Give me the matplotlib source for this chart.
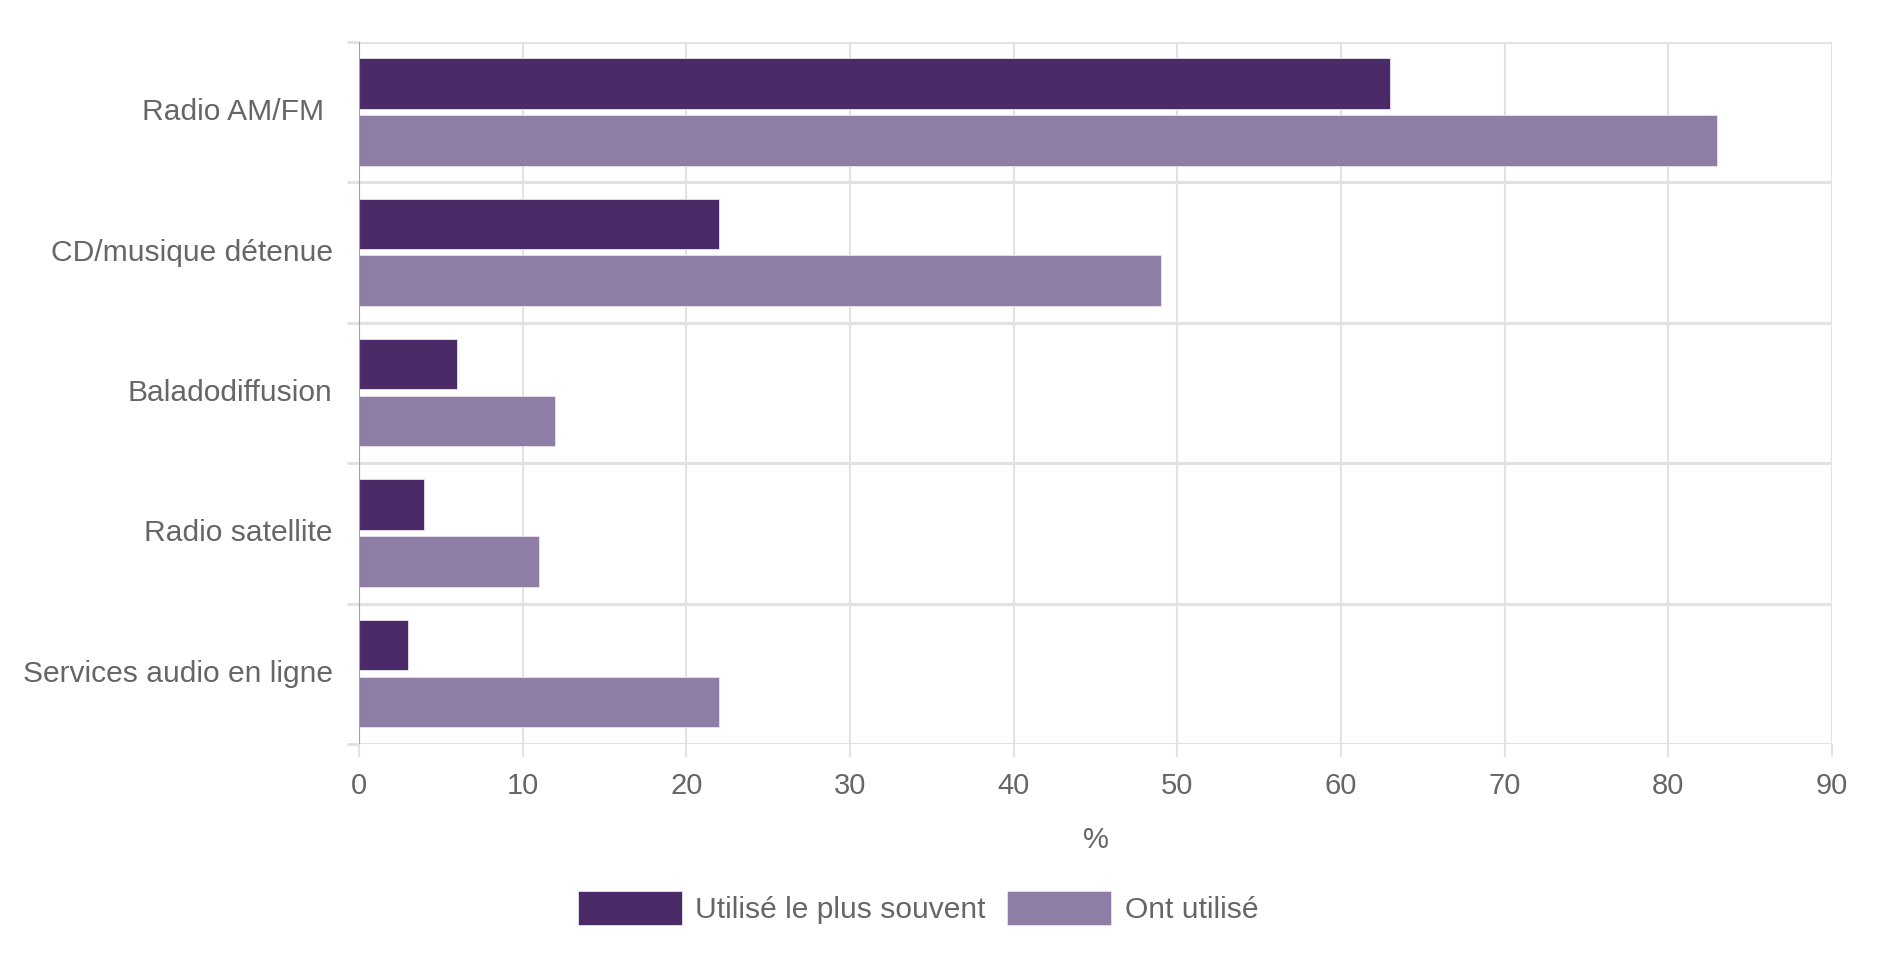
import matplotlib
matplotlib.use("Agg")
import matplotlib.pyplot as plt
from matplotlib.patches import Patch
import matplotlib.transforms as mtransforms
import numpy as np

categories = ["Radio AM/FM ", "CD/musique détenue", "Baladodiffusion", "Radio satellite", "Services audio en ligne"]
most_often = [63, 22, 6, 4, 3]
have_used = [83, 49, 12, 11, 22]
series_names = ["Utilisé le plus souvent", "Ont utilisé"]
x_ticks = [0, 10, 20, 30, 40, 50, 60, 70, 80, 90]
x_label = "%"

dark = "#4B2A68"
light = "#8E7EA5"
text_col = "#666666"
grid_col = "#E2E2E2"

plt.rcParams['font.family'] = ['Liberation Sans', 'DejaVu Sans']

fig = plt.figure(figsize=(18.8, 9.8), dpi=100)
ax = fig.add_axes([359/1880, 1-744/980, (1832-359)/1880, (744-42)/980])

y = np.arange(len(categories))
h = 0.36
ax.barh(y - 0.205, most_often, height=h, color=dark, edgecolor="#E8E4EE", linewidth=0.6, zorder=3, label=series_names[0])
ax.barh(y + 0.20, have_used, height=h, color=light, edgecolor="#E8E4EE", linewidth=0.6, zorder=3, label=series_names[1])

ax.set_xlim(0, 90)
ax.set_ylim(len(categories) - 0.5, -0.5)

ax.set_xticks(x_ticks)
ax.set_xticklabels([str(t) for t in x_ticks])
ax.set_yticks(y)
ax.set_yticklabels(categories)
ax.set_yticks(np.arange(len(categories) + 1) - 0.5, minor=True)

for s in ax.spines.values():
    s.set_visible(False)

ax.grid(axis="x", which="major", color=grid_col, linewidth=1.5, zorder=0)
ax.grid(axis="y", which="minor", color=grid_col, linewidth=2.2, zorder=0)
ax.axvline(0, color="#A0A0A0", linewidth=1.5, zorder=4)

ax.tick_params(axis="x", which="major", length=9, width=1.5, color=grid_col, labelsize=21, labelcolor=text_col, pad=11)
ax.tick_params(axis="y", which="major", length=0, labelsize=21.6, labelcolor=text_col, pad=19)
ax.tick_params(axis="y", which="minor", length=9, width=2.2, color=grid_col)

shift = mtransforms.ScaledTranslation(0, 3/100, fig.dpi_scale_trans)
for lbl in ax.get_yticklabels():
    lbl.set_transform(lbl.get_transform() + shift)

ax.set_xlabel(x_label, fontsize=21, color=text_col, labelpad=19)

handles = [Patch(facecolor=dark, edgecolor="#E8E4EE", linewidth=0.6), Patch(facecolor=light, edgecolor="#E8E4EE", linewidth=0.6)]
fig.legend(handles, series_names, loc="center", bbox_to_anchor=(918/1880, 1-908/980), ncol=2,
           frameon=False, fontsize=21.6, labelcolor=text_col, handlelength=3.47, handleheight=1.33,
           handletextpad=0.44, columnspacing=0.72, borderpad=0)

fig.savefig("out.png", dpi=100, facecolor="white")
